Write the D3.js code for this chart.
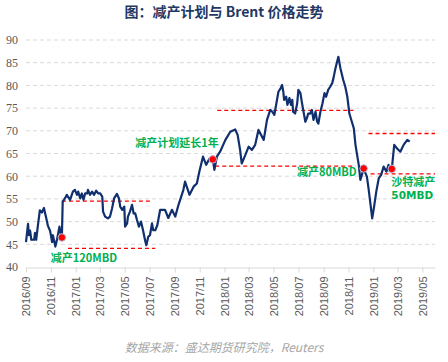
<!DOCTYPE html>
<html><head><meta charset="utf-8">
<script src="https://cdn.jsdelivr.net/npm/d3@7"></script>
<style>
html,body{margin:0;padding:0;background:#fff;}
svg{display:block;}
</style></head>
<body>
<svg id="chart" width="448" height="362"></svg>
<script>
const title = "图：减产计划与 Brent 价格走势";
const source = "数据来源：盛达期货研究院，Reuters";
const yTicks = [40,45,50,55,60,65,70,75,80,85,90];
const xTickLabels = ["2016/09","2016/11","2017/01","2017/03","2017/05","2017/07","2017/09","2017/11","2018/01","2018/03","2018/05","2018/07","2018/09","2018/11","2019/01","2019/03","2019/05"];

const brentDates = [
"2016-09-01","2016-09-06","2016-09-08","2016-09-11","2016-09-14","2016-09-21","2016-09-23","2016-09-26","2016-09-30","2016-10-05","2016-10-10","2016-10-15","2016-10-20","2016-10-25","2016-10-30","2016-11-04","2016-11-06","2016-11-12","2016-11-16","2016-11-22","2016-11-26","2016-11-28",
"2016-11-30","2016-12-03","2016-12-08","2016-12-10","2016-12-18","2016-12-25","2016-12-30","2017-01-04","2017-01-07","2017-01-12","2017-01-16","2017-01-20","2017-01-24","2017-01-29","2017-01-31","2017-02-05","2017-02-10","2017-02-15","2017-02-20","2017-02-25","2017-03-02","2017-03-07","2017-03-09","2017-03-14","2017-03-21","2017-03-26","2017-03-31","2017-04-05","2017-04-12","2017-04-17","2017-04-20","2017-04-25","2017-04-30","2017-05-02","2017-05-07","2017-05-09","2017-05-14","2017-05-19","2017-05-23","2017-05-27","2017-05-31","2017-06-05","2017-06-10","2017-06-15","2017-06-20","2017-06-23","2017-06-28","2017-07-02","2017-07-07","2017-07-10","2017-07-15","2017-07-20","2017-07-27",
"2017-08-08","2017-08-16","2017-08-25","2017-09-02","2017-09-10","2017-09-22","2017-09-26","2017-10-07","2017-10-17","2017-10-25","2017-10-31","2017-11-09","2017-11-17","2017-11-25","2017-12-03","2017-12-07","2017-12-13","2017-12-21","2018-01-03","2018-01-15","2018-01-27","2018-02-02","2018-02-08","2018-02-12","2018-02-21","2018-03-01","2018-03-09","2018-03-17","2018-03-25","2018-04-07","2018-04-15",
"2018-04-23","2018-04-28","2018-05-03","2018-05-08","2018-05-13","2018-05-18","2018-05-22","2018-05-25","2018-05-27","2018-06-01","2018-06-04","2018-06-09","2018-06-13","2018-06-16","2018-06-18","2018-06-23","2018-06-28","2018-07-01","2018-07-06","2018-07-10","2018-07-15","2018-07-18","2018-07-23","2018-07-25","2018-07-30","2018-08-03","2018-08-07","2018-08-12","2018-08-16","2018-08-19","2018-08-24","2018-08-29","2018-09-03","2018-09-07","2018-09-12","2018-09-17","2018-09-22","2018-09-25","2018-09-30","2018-10-05","2018-10-07","2018-10-12","2018-10-19","2018-10-24","2018-10-29","2018-11-03",
"2018-11-14","2018-11-18","2018-11-22","2018-11-26","2018-11-30","2018-12-08","2018-12-16","2018-12-20","2018-12-25","2018-12-29","2019-01-02","2019-01-08","2019-01-14","2019-01-20","2019-01-26","2019-02-02","2019-02-07","2019-02-15","2019-02-21","2019-02-28","2019-03-08","2019-03-16","2019-03-25","2019-03-31"];
const brentValues = [
45.5,49.5,47,48,46,46,47.5,46,49,52.5,52,53,51,49,48,45.5,47,44.5,46,48.9,47,46.5,
54.4,54.8,55.5,55.9,54.8,56.6,57,55.9,56.6,55.1,56.2,54.8,56.2,56.2,57,55.9,56.6,55.9,56.8,56.2,56.2,55.5,52.2,51.1,50.7,51.1,52.9,55.1,56.1,55.1,53.3,52.6,53.3,48.9,49.6,51.1,52.2,53.7,51.8,51.8,50.4,48.9,50,48.1,45.9,44.8,46.7,47,49.6,48.1,48.1,49.2,52.6,
52.6,50.8,52.6,51.1,53.7,57,58.8,55.9,57.7,58.4,61,64.3,62.5,63.9,63.7,61.4,64.3,65.4,68,69.8,70.3,69.1,65.8,62.8,64.7,66.5,65.8,66.9,70.2,68,72.4,
74.6,74.2,73.5,76,78.6,79.3,80.1,78.6,76.8,77.5,75.7,77.2,75.7,76.8,74.2,73.8,76,79,78.3,76,73.5,72,73.1,73.8,73.8,74.6,72.4,74.2,72,71.6,74.2,76,78.3,77.5,79,79.7,80.5,81.6,83.8,85.6,86.3,83.8,81.2,79.7,77.5,73.8,
70.5,66.9,64.7,62.5,59.2,61.6,59.9,57.3,53.7,50.7,52.9,56.6,59.5,60.3,62.1,61,62.5,61.5,66.9,66.1,65.4,66.9,68,67.6];

const eventDates = ["2016-11-28","2017-12-03","2018-12-08","2019-02-15"];
const eventValues = [46.5,63.7,61.7,61.6];

const refStart = ["2016-12-13","2016-11-28","2017-12-09","2017-12-14","2018-12-20","2018-12-25"];
const refEnd   = ["2017-07-15","2017-07-07","2018-11-18","2018-11-13","2019-06-01","2019-06-01"];
const refValues = [44.1,54.5,62.2,74.5,69.4,60.5];

const noteTexts = ["减产120MBD","减产计划延长1年","减产80MBD","沙特减产","50MBD"];
const noteDates = ["2016-11-01","2017-05-27","2018-11-21","2019-02-14","2019-02-14"];
const noteValues = [42,67.2,61,58.7,55.75];
const noteAnchors = ["start","start","end","start","start"];

const parse = d3.timeParse("%Y-%m-%d");
const parseM = d3.timeParse("%Y/%m");
const svg = d3.select("#chart");

const x = d3.scaleTime().domain([parse("2016-09-01"), parse("2019-06-01")]).range([26, 435]);
const y = d3.scaleLinear().domain([40, 90]).range([267, 40]);

// title
svg.append("text").attr("x", 224).attr("y", 17).attr("text-anchor","middle")
  .attr("font-family","'Noto Sans CJK SC', sans-serif").attr("font-weight","bold")
  .attr("font-size",14).attr("fill","#1f3864").text(title);

// grid
svg.append("g").selectAll("line").data(yTicks.filter(v=>v>40)).join("line")
  .attr("x1",26).attr("x2",435).attr("y1",d=>y(d)).attr("y2",d=>y(d))
  .attr("stroke","#d9d9d9").attr("stroke-width",1).attr("stroke-dasharray","4,3");

// y axis labels
const yAxis = d3.axisLeft(y).tickValues(yTicks).tickSize(0).tickPadding(8);
const gy = svg.append("g").attr("transform","translate(26,0)").call(yAxis);
gy.select(".domain").remove();
gy.selectAll("text").attr("font-family","'Liberation Serif', serif").attr("font-size",12).attr("fill","#595959");

// x axis
const xTickDates = xTickLabels.map(parseM);
const xAxis = d3.axisBottom(x).tickValues(xTickDates).tickFormat(d3.timeFormat("%Y/%m")).tickSize(5).tickSizeOuter(0);
const gx = svg.append("g").attr("transform","translate(0,267.5)").call(xAxis);
gx.select(".domain").attr("stroke","#d9d9d9");
gx.selectAll(".tick line").attr("stroke","#d9d9d9");
gx.selectAll("text").attr("font-family","'Liberation Sans', sans-serif").attr("font-size",11).attr("fill","#595959")
  .attr("transform","rotate(-90)").attr("text-anchor","end").attr("dy","0.35em").attr("x",-9).attr("y",0);

// reference lines
svg.append("g").selectAll("line").data(refValues).join("line")
  .attr("x1",(d,i)=>x(parse(refStart[i]))).attr("x2",(d,i)=>x(parse(refEnd[i])))
  .attr("y1",d=>y(d)).attr("y2",d=>y(d))
  .attr("stroke","#ff0000").attr("stroke-width",1.3).attr("stroke-dasharray","4,3");

// brent line
const pts = brentDates.map((d,i)=>[parse(d), brentValues[i]]);
svg.append("path").datum(pts)
  .attr("d", d3.line().x(d=>x(d[0])).y(d=>y(d[1])))
  .attr("fill","none").attr("stroke","#102f6e").attr("stroke-width",2.2).attr("stroke-linejoin","round");

// event dots
svg.append("g").selectAll("circle").data(eventValues).join("circle")
  .attr("cx",(d,i)=>x(parse(eventDates[i]))).attr("cy",d=>y(d)).attr("r",3.8)
  .attr("fill","#ff0000").attr("stroke","#b4c3e0").attr("stroke-width",1);

// notes
svg.append("g").selectAll("text").data(noteTexts).join("text")
  .attr("x",(d,i)=>x(parse(noteDates[i]))).attr("y",(d,i)=>y(noteValues[i]))
  .attr("dy","0.35em").attr("text-anchor",(d,i)=>noteAnchors[i])
  .attr("font-family",(d,i)=> i===4 ? "'DejaVu Sans', sans-serif" : "'Noto Sans CJK SC', sans-serif")
  .attr("font-weight","bold")
  .attr("font-size",(d,i)=> i===4 ? 10.5 : 11).attr("fill","#00b050").text(d=>d);

// source
svg.append("text").attr("x",224).attr("y",352).attr("text-anchor","middle")
  .attr("font-family","'Noto Sans CJK SC', sans-serif").attr("font-style","italic")
  .attr("font-size",12).attr("fill","#a6a6a6").text(source);
</script>
</body></html>
